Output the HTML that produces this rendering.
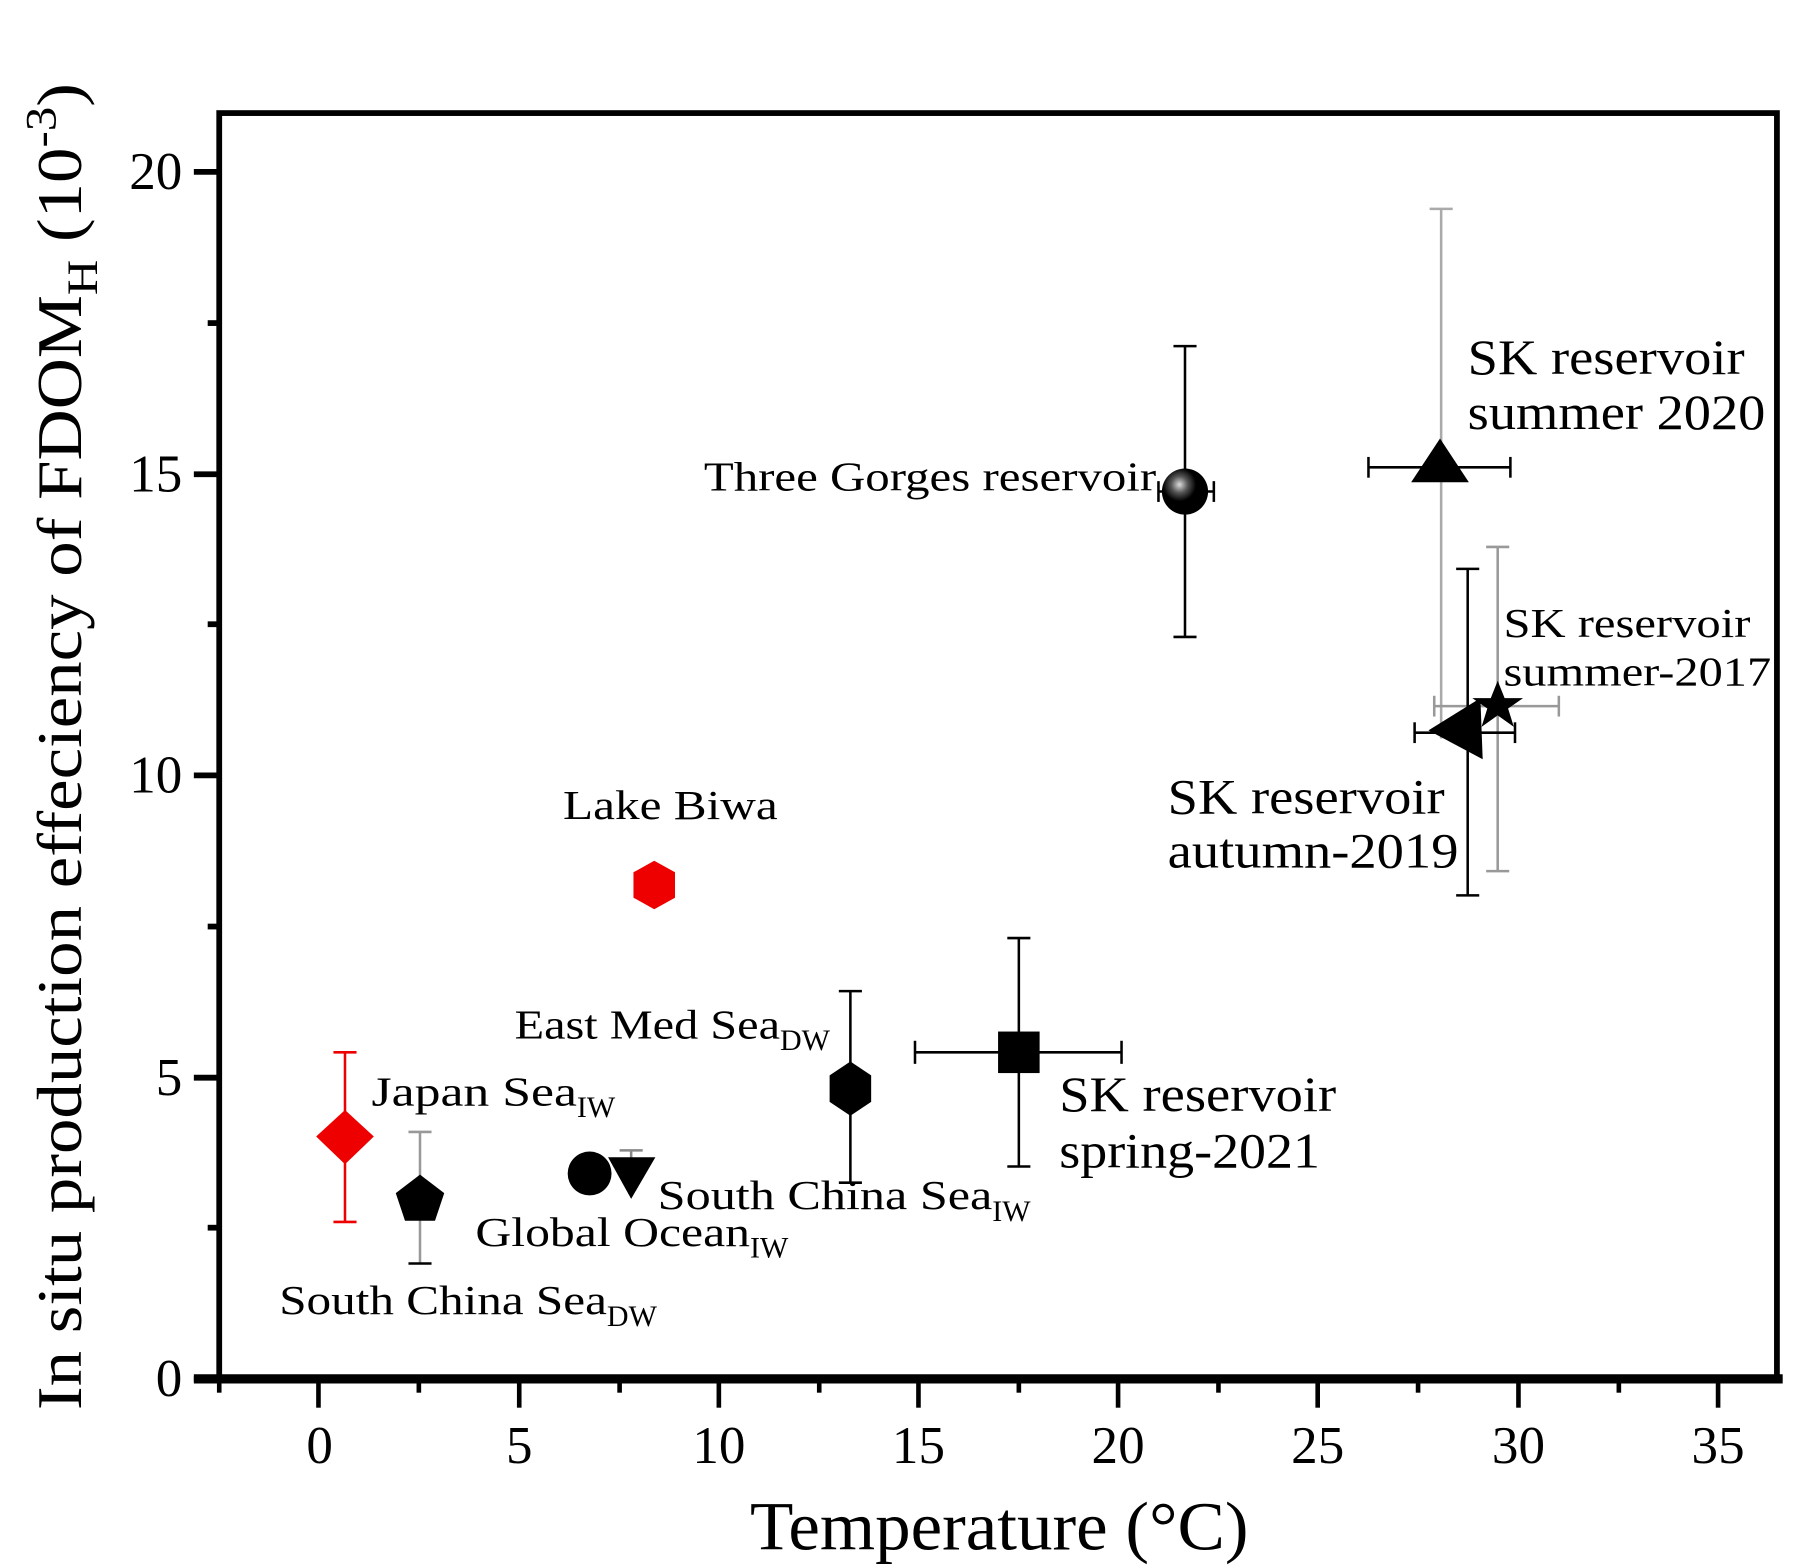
<!DOCTYPE html>
<html><head><meta charset="utf-8"><style>html,body{margin:0;padding:0;background:#fff}svg{display:block}</style></head>
<body>
<svg width="1800" height="1565" viewBox="0 0 1560 1356.33" xmlns="http://www.w3.org/2000/svg" font-family="'Liberation Serif', serif">
<defs>
<radialGradient id="sph" cx="0.38" cy="0.35" r="0.6">
<stop offset="0" stop-color="#ddd"/><stop offset="0.3" stop-color="#555"/><stop offset="0.6" stop-color="#000"/><stop offset="1" stop-color="#000"/>
</radialGradient>
</defs>
<rect x="190" y="98" width="1350" height="1096" fill="none" stroke="#000" stroke-width="5"/>
<line x1="168" y1="1195" x2="1545" y2="1195" stroke="#000" stroke-width="8"/>
<g stroke="#000" stroke-width="5">
<line x1="168" y1="1195" x2="190" y2="1195"/>
<line x1="168" y1="934" x2="190" y2="934"/>
<line x1="168" y1="672" x2="190" y2="672"/>
<line x1="168" y1="411" x2="190" y2="411"/>
<line x1="168" y1="149" x2="190" y2="149"/>
<line x1="180" y1="1064" x2="190" y2="1064"/>
<line x1="180" y1="803" x2="190" y2="803"/>
<line x1="180" y1="541" x2="190" y2="541"/>
<line x1="180" y1="280" x2="190" y2="280"/>
</g>
<g stroke="#000" stroke-width="4">
<line x1="276" y1="1195" x2="276" y2="1220"/>
<line x1="450" y1="1195" x2="450" y2="1220"/>
<line x1="623" y1="1195" x2="623" y2="1220"/>
<line x1="796" y1="1195" x2="796" y2="1220"/>
<line x1="969" y1="1195" x2="969" y2="1220"/>
<line x1="1142" y1="1195" x2="1142" y2="1220"/>
<line x1="1316" y1="1195" x2="1316" y2="1220"/>
<line x1="1489" y1="1195" x2="1489" y2="1220"/>
<line x1="190" y1="1195" x2="190" y2="1207"/>
<line x1="363" y1="1195" x2="363" y2="1207"/>
<line x1="537" y1="1195" x2="537" y2="1207"/>
<line x1="710" y1="1195" x2="710" y2="1207"/>
<line x1="883" y1="1195" x2="883" y2="1207"/>
<line x1="1056" y1="1195" x2="1056" y2="1207"/>
<line x1="1229" y1="1195" x2="1229" y2="1207"/>
<line x1="1403" y1="1195" x2="1403" y2="1207"/>
</g>
<g font-size="46" text-anchor="middle">
<text x="277" y="1268">0</text><text x="450" y="1268">5</text><text x="623" y="1268">10</text><text x="796" y="1268">15</text>
<text x="969" y="1268">20</text><text x="1142" y="1268">25</text><text x="1316" y="1268">30</text><text x="1489" y="1268">35</text>
</g>
<g font-size="46" text-anchor="end">
<text x="158" y="1210">0</text><text x="158" y="949">5</text><text x="158" y="687">10</text><text x="158" y="426">15</text><text x="158" y="164">20</text>
</g>
<text x="866" y="1343" font-size="60" text-anchor="middle" textLength="432" lengthAdjust="spacingAndGlyphs">Temperature (°C)</text>
<text transform="translate(70,1222) rotate(-90)" font-size="55" textLength="1150" lengthAdjust="spacingAndGlyphs">In situ production effeciency of FDOM<tspan font-size="38" dy="14">H</tspan><tspan dy="-14"> (10</tspan><tspan font-size="38" dy="-22">-3</tspan><tspan dy="22">)</tspan></text>

<g stroke-width="2.2" fill="none">
<g stroke="#e00"><line x1="299" y1="912" x2="299" y2="1059"/><line x1="289" y1="912" x2="309" y2="912"/><line x1="289" y1="1059" x2="309" y2="1059"/></g>
<g stroke="#999"><line x1="364" y1="981" x2="364" y2="1095"/><line x1="354" y1="981" x2="374" y2="981"/></g>
<g stroke="#000"><line x1="354" y1="1095" x2="374" y2="1095"/></g>
<g stroke="#888"><line x1="547" y1="997" x2="547" y2="1030"/><line x1="537" y1="997" x2="557" y2="997"/></g>
<g stroke="#000"><line x1="737" y1="859" x2="737" y2="1025"/><line x1="727" y1="859" x2="747" y2="859"/><line x1="727" y1="1025" x2="747" y2="1025"/></g>
<g stroke="#000"><line x1="883" y1="813" x2="883" y2="1011"/><line x1="873" y1="813" x2="893" y2="813"/><line x1="873" y1="1011" x2="893" y2="1011"/>
<line x1="793" y1="912" x2="972" y2="912"/><line x1="793" y1="902" x2="793" y2="922"/><line x1="972" y1="902" x2="972" y2="922"/></g>
<g stroke="#000"><line x1="1027" y1="300" x2="1027" y2="552"/><line x1="1017" y1="300" x2="1037" y2="300"/><line x1="1017" y1="552" x2="1037" y2="552"/>
<line x1="1004" y1="426" x2="1052" y2="426"/><line x1="1004" y1="417" x2="1004" y2="435"/><line x1="1052" y1="417" x2="1052" y2="435"/></g>
<g stroke="#aaa"><line x1="1249" y1="181" x2="1249" y2="640"/><line x1="1239" y1="181" x2="1259" y2="181"/></g>
<g stroke="#000"><line x1="1186" y1="405" x2="1309" y2="405"/><line x1="1186" y1="396" x2="1186" y2="414"/><line x1="1309" y1="396" x2="1309" y2="414"/></g>
<g stroke="#999"><line x1="1298" y1="474" x2="1298" y2="755"/><line x1="1288" y1="474" x2="1308" y2="474"/><line x1="1288" y1="755" x2="1308" y2="755"/>
<line x1="1243" y1="612" x2="1351" y2="612"/><line x1="1243" y1="603" x2="1243" y2="621"/><line x1="1351" y1="603" x2="1351" y2="621"/></g>
<g stroke="#000"><line x1="1272" y1="493" x2="1272" y2="776"/><line x1="1262" y1="493" x2="1282" y2="493"/><line x1="1262" y1="776" x2="1282" y2="776"/>
<line x1="1226" y1="635" x2="1313" y2="635"/><line x1="1226" y1="626" x2="1226" y2="644"/><line x1="1313" y1="626" x2="1313" y2="644"/></g>
</g>

<polygon points="299,962 324,985 299,1009 274,985" fill="#e00"/>
<polygon points="364,1018 385,1034 377,1058 351,1058 343,1034" fill="#000"/>
<circle cx="511" cy="1017" r="19" fill="#000"/>
<polygon points="527,1003 568,1003 547,1039" fill="#000"/>
<polygon points="567,746 585,756 585,778 567,788 549,778 549,756" fill="#e00"/>
<polygon points="737,920 755,932 755,955 737,967 719,955 719,932" fill="#000"/>
<rect x="865" y="894" width="36" height="36" fill="#000"/>
<circle cx="1027" cy="426" r="20" fill="url(#sph)"/>
<polygon points="1248,380 1273,418 1223,418" fill="#000"/>
<polygon points="1238,633 1283,605 1285,658" fill="#000"/>
<polygon points="1298,590 1304,605 1320,605 1307,614 1312,630 1298,620 1284,630 1289,614 1276,605 1292,605" fill="#000"/>

<g font-size="36">
<text x="610" y="425" textLength="392" lengthAdjust="spacingAndGlyphs">Three Gorges reservoir</text>
<text x="488" y="710" textLength="186" lengthAdjust="spacingAndGlyphs">Lake Biwa</text>
<text x="446" y="900"><tspan textLength="230" lengthAdjust="spacingAndGlyphs">East Med Sea</tspan><tspan font-size="26" dy="10">DW</tspan></text>
<text x="322" y="958"><tspan textLength="178" lengthAdjust="spacingAndGlyphs">Japan Sea</tspan><tspan font-size="26" dy="10">IW</tspan></text>
<text x="570" y="1048"><tspan textLength="290" lengthAdjust="spacingAndGlyphs">South China Sea</tspan><tspan font-size="26" dy="10">IW</tspan></text>
<text x="412" y="1080"><tspan textLength="238" lengthAdjust="spacingAndGlyphs">Global Ocean</tspan><tspan font-size="26" dy="10">IW</tspan></text>
<text x="242" y="1139"><tspan textLength="284" lengthAdjust="spacingAndGlyphs">South China Sea</tspan><tspan font-size="26" dy="10">DW</tspan></text>
<text x="1303" y="552" textLength="214" lengthAdjust="spacingAndGlyphs">SK reservoir</text>
<text x="1303" y="594" textLength="232" lengthAdjust="spacingAndGlyphs">summer-2017</text>
</g>
<g font-size="43">
<text x="1272" y="324" textLength="240" lengthAdjust="spacingAndGlyphs">SK reservoir</text>
<text x="1272" y="372" textLength="258" lengthAdjust="spacingAndGlyphs">summer 2020</text>
<text x="1012" y="705" textLength="240" lengthAdjust="spacingAndGlyphs">SK reservoir</text>
<text x="1012" y="752" textLength="252" lengthAdjust="spacingAndGlyphs">autumn-2019</text>
<text x="918" y="963" textLength="240" lengthAdjust="spacingAndGlyphs">SK reservoir</text>
<text x="918" y="1012" textLength="226" lengthAdjust="spacingAndGlyphs">spring-2021</text>
</g>
</svg>
</body></html>
